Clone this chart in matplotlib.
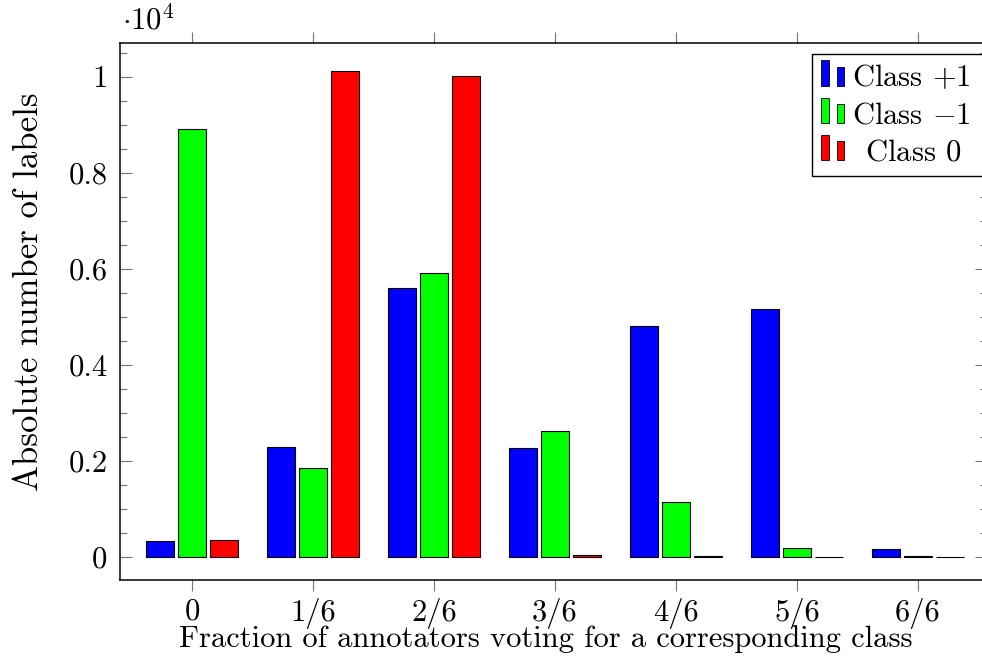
import matplotlib
matplotlib.use("Agg")
import matplotlib.pyplot as plt
import numpy as np
from matplotlib.legend_handler import HandlerBase
from matplotlib.patches import Rectangle
from matplotlib.ticker import FuncFormatter, MultipleLocator

plt.rcParams["font.family"] = "cmr10"
plt.rcParams["mathtext.fontset"] = "cm"
plt.rcParams["axes.formatter.use_mathtext"] = True

# values (absolute counts)
fractions = ["0", "1/6", "2/6", "3/6", "4/6", "5/6", "6/6"]
class_pos = [330, 2290, 5590, 2260, 4810, 5150, 170]
class_neg = [8900, 1850, 5915, 2620, 1130, 180, 15]
class_zero = [345, 10125, 10015, 40, 15, 3, 3]

series = [
    (class_pos, "#0000ff", r"Class $+1$"),
    (class_neg, "#00ff00", r"Class $-1$"),
    (class_zero, "#ff0000", r"$\ \,$Class $0$"),
]

FS = 22


class TwoBarHandler(HandlerBase):
    # pgfplots-style ybar legend image: two small bars side by side
    def create_artists(self, legend, orig_handle, xdescent, ydescent,
                       width, height, fontsize, trans):
        fc = orig_handle.get_facecolor()
        bw = width * 0.32
        b1 = Rectangle((-xdescent, -ydescent), bw, height * 1.2,
                       facecolor=fc, edgecolor="black", lw=0.6, transform=trans)
        b2 = Rectangle((-xdescent + width * 0.68, -ydescent), bw, height * 0.9,
                       facecolor=fc, edgecolor="black", lw=0.6, transform=trans)
        return [b1, b2]


fig = plt.figure(figsize=(9.82, 6.65), dpi=100)
ax = fig.add_axes([120 / 982, 85 / 665, 867 / 982, 537 / 665])

x = np.arange(len(fractions))
offset = 0.265
width = 0.225
handles = []
for i, (vals, col, lab) in enumerate(series):
    bars = ax.bar(x + (i - 1) * offset, vals, width, color=col,
                  edgecolor="black", linewidth=0.8, label=lab)
    handles.append(bars[0])

ax.set_xlim(-0.595, 6.57)
ax.set_ylim(-485, 10700)

ax.set_xticks(x)
ax.set_xticklabels(fractions)
ax.yaxis.set_major_locator(MultipleLocator(2000))
ax.yaxis.set_minor_locator(MultipleLocator(500))
ax.yaxis.set_major_formatter(FuncFormatter(lambda v, p: "%g" % (v / 1e4)))

ax.tick_params(axis="x", direction="out", top=True, length=8, width=0.8,
               color="0.45", labelsize=FS, pad=5)
ax.tick_params(axis="y", which="major", direction="in", right=True, length=8.5,
               width=0.8, color="0.45", labelsize=FS, pad=9)
ax.tick_params(axis="y", which="minor", direction="in", right=True, length=5,
               width=0.8, color="0.45")
for s in ax.spines.values():
    s.set_linewidth(1.1)
    s.set_color("black")

ax.set_xlabel("Fraction of annotators voting for a corresponding class", fontsize=FS)
ax.xaxis.set_label_coords(0.491, -0.084)
ax.set_ylabel("Absolute number of labels", fontsize=25)
ax.yaxis.set_label_coords(-0.0865, 0.536)
ax.text(0.002, 1.015, r"$\cdot10^4$", transform=ax.transAxes,
        fontsize=FS, ha="left", va="bottom")

# expand mode so the frame runs past the right edge like the cropped original
leg = ax.legend(handles, [s[2] for s in series],
                handler_map={h: TwoBarHandler() for h in handles},
                loc="upper left", bbox_to_anchor=(692 / 867, 0.5, 190 / 867, 0.4795),
                mode="expand",
                fontsize=FS, frameon=True, fancybox=False, edgecolor="black",
                framealpha=1, borderpad=0.3, labelspacing=0.32,
                handlelength=0.76, handletextpad=0.26, borderaxespad=0)
leg.get_frame().set_linewidth(1.0)

fig.savefig("out.png", dpi=100)
